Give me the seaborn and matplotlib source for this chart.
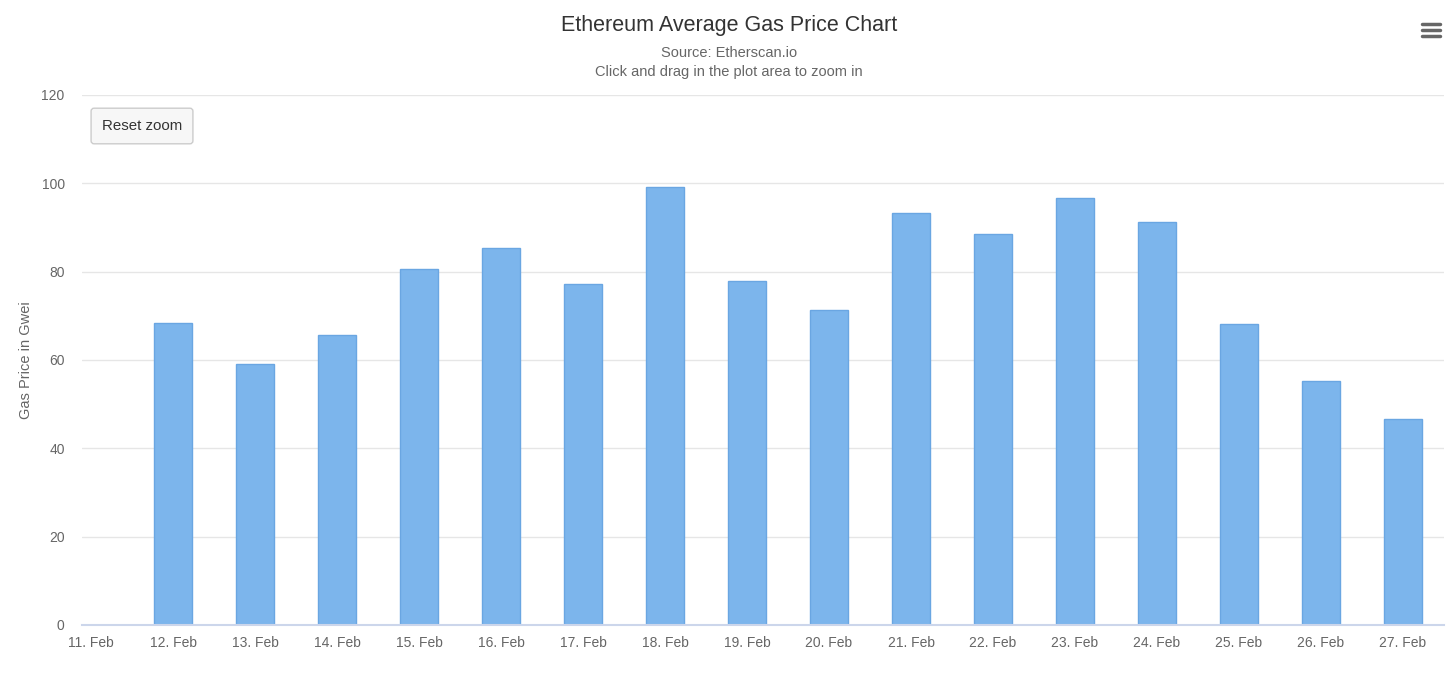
import matplotlib
matplotlib.use("Agg")
import matplotlib.pyplot as plt
import seaborn as sns
import pandas as pd
import numpy as np
from matplotlib.lines import Line2D

sns.set_style("white")
plt.rcParams['font.family'] = ['Liberation Sans', 'DejaVu Sans']

# days on the x axis (11 Feb has no value)
days = ['11. Feb', '12. Feb', '13. Feb', '14. Feb', '15. Feb', '16. Feb', '17. Feb', '18. Feb',
        '19. Feb', '20. Feb', '21. Feb', '22. Feb', '23. Feb', '24. Feb', '25. Feb', '26. Feb', '27. Feb']
gas_price = [np.nan, 68.3, 59.0, 65.6, 80.5, 85.3, 77.1, 99.1,
             77.8, 71.3, 93.2, 88.5, 96.6, 91.2, 68.1, 55.2, 46.6]
y_ticks = [0, 20, 40, 60, 80, 100, 120]

df = pd.DataFrame({'day': days, 'gas': gas_price})

fig = plt.figure(figsize=(14.56, 6.88), dpi=100)
ax = fig.add_axes([82 / 1456, 1 - 625 / 688, (1444 - 82) / 1456, (625 - 95) / 688])

sns.barplot(data=df, x='day', y='gas', ax=ax, color='#7cb5ec', saturation=1,
            width=0.46, edgecolor='#6aa6e2', linewidth=1, order=days)

ax.set_ylim(0, 120)
ax.set_xlim(-0.11, 16.5)
ax.set_yticks(y_ticks)
ax.yaxis.grid(True, color='#e6e6e6', linewidth=1)
ax.set_axisbelow(True)
for s in ['top', 'right', 'left']:
    ax.spines[s].set_visible(False)
ax.spines['bottom'].set_color('#ccd6eb')
ax.spines['bottom'].set_linewidth(1.5)
ax.tick_params(axis='x', colors='#ccd6eb', length=8, width=1, labelcolor='#666666', labelsize=10, pad=0)
ax.tick_params(axis='y', length=0, labelcolor='#666666', labelsize=10, pad=12.5)
ax.set_xlabel('')
ax.set_ylabel('Gas Price in Gwei', fontsize=10.5, color='#666666')
ax.yaxis.set_label_coords((33 - 82) / 1362, 0.5)

fig.text(729 / 1456, 1 - 26 / 688, 'Ethereum Average Gas Price Chart', ha='center', va='center',
         fontsize=15.5, color='#333333')
fig.text(729 / 1456, 1 - 53 / 688, 'Source: Etherscan.io', ha='center', va='center',
         fontsize=10.5, color='#666666')
fig.text(729 / 1456, 1 - 72 / 688, 'Click and drag in the plot area to zoom in', ha='center', va='center',
         fontsize=10.5, color='#666666')

# reset zoom button
fig.text(142 / 1456, 1 - 126 / 688, 'Reset zoom', ha='center', va='center', fontsize=10.8, color='#333333',
         bbox=dict(boxstyle='round,pad=0.72,rounding_size=0.2', facecolor='#f7f7f7', edgecolor='#cccccc', linewidth=1))

# menu icon
for yy in [24, 30, 36]:
    fig.add_artist(Line2D([1422 / 1456, 1440 / 1456], [1 - yy / 688, 1 - yy / 688],
                          color='#666666', linewidth=2.5, solid_capstyle='round'))

fig.savefig('out.png', dpi=100)
